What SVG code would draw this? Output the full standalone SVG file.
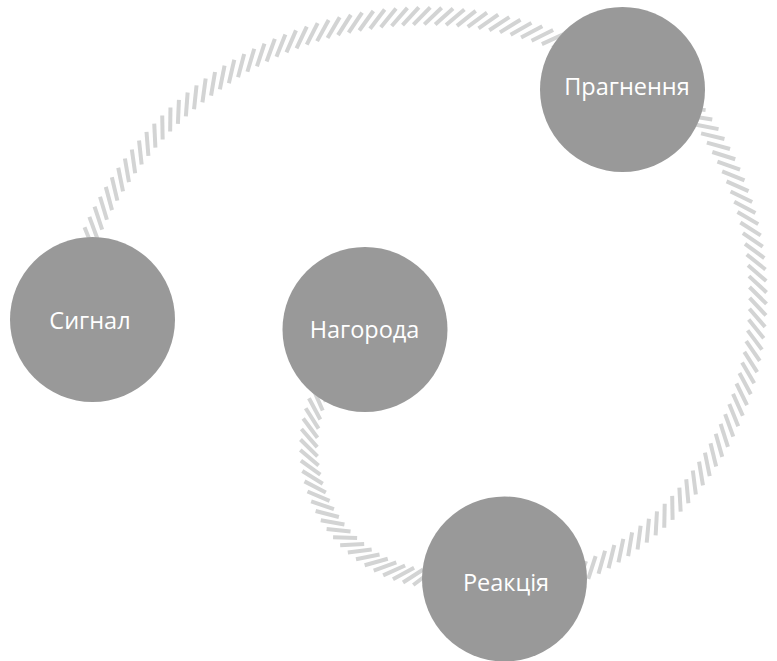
<svg xmlns="http://www.w3.org/2000/svg" xmlns:xlink="http://www.w3.org/1999/xlink" width="777" height="661" viewBox="0 0 777 661">
<style>
.node circle{fill:#999999}
.node text{fill:#ffffff;font-family:"Open Sans","Noto Sans","DejaVu Sans",sans-serif;font-size:23.5px;text-anchor:middle;dominant-baseline:central}
</style>
<defs>
<line id="bar" x1="-8.5" y1="-8.5" x2="8.5" y2="8.5"/>
<g id="t10">
<use href="#bar" transform="rotate(0) translate(365 0)"/>
<use href="#bar" transform="rotate(1.75) translate(365 0)"/>
<use href="#bar" transform="rotate(3.5) translate(365 0)"/>
<use href="#bar" transform="rotate(5.25) translate(365 0)"/>
<use href="#bar" transform="rotate(7) translate(365 0)"/>
<use href="#bar" transform="rotate(8.75) translate(365 0)"/>
<use href="#bar" transform="rotate(10.5) translate(365 0)"/>
<use href="#bar" transform="rotate(12.25) translate(365 0)"/>
<use href="#bar" transform="rotate(14) translate(365 0)"/>
<use href="#bar" transform="rotate(15.75) translate(365 0)"/>
</g>
<g id="r10">
<use href="#bar" transform="rotate(0) translate(305 0)"/>
<use href="#bar" transform="rotate(2.1) translate(305 0)"/>
<use href="#bar" transform="rotate(4.2) translate(305 0)"/>
<use href="#bar" transform="rotate(6.3) translate(305 0)"/>
<use href="#bar" transform="rotate(8.4) translate(305 0)"/>
<use href="#bar" transform="rotate(10.5) translate(305 0)"/>
<use href="#bar" transform="rotate(12.6) translate(305 0)"/>
<use href="#bar" transform="rotate(14.7) translate(305 0)"/>
<use href="#bar" transform="rotate(16.8) translate(305 0)"/>
<use href="#bar" transform="rotate(18.9) translate(305 0)"/>
</g>
<g id="l10">
<use href="#bar" transform="rotate(0) translate(132 0)"/>
<use href="#bar" transform="rotate(4.3) translate(132 0)"/>
<use href="#bar" transform="rotate(8.6) translate(132 0)"/>
<use href="#bar" transform="rotate(12.9) translate(132 0)"/>
<use href="#bar" transform="rotate(17.2) translate(132 0)"/>
<use href="#bar" transform="rotate(21.5) translate(132 0)"/>
<use href="#bar" transform="rotate(25.8) translate(132 0)"/>
<use href="#bar" transform="rotate(30.1) translate(132 0)"/>
<use href="#bar" transform="rotate(34.4) translate(132 0)"/>
<use href="#bar" transform="rotate(38.7) translate(132 0)"/>
</g>
</defs>
<rect width="777" height="661" fill="#ffffff"/>
<g id="connectors" stroke="#d3d4d4" stroke-width="4" fill="none">
<g id="arc-signal-pragnennia" transform="translate(425 381)">
<use href="#t10" transform="rotate(-157)"/>
<use href="#t10" transform="rotate(-139.5)"/>
<use href="#t10" transform="rotate(-122)"/>
<use href="#t10" transform="rotate(-104.5)"/>
<use href="#t10" transform="rotate(-87)"/>
<use href="#t10" transform="rotate(-69.5)"/>
</g>
<g id="arc-pragnennia-reaktsiia" transform="translate(453 296)">
<use href="#r10" transform="rotate(-40)"/>
<use href="#r10" transform="rotate(-19)"/>
<use href="#r10" transform="rotate(2)"/>
<use href="#r10" transform="rotate(23)"/>
<use href="#r10" transform="rotate(44)"/>
<use href="#r10" transform="rotate(65)"/>
</g>
<g id="arc-nagoroda-reaktsiia" transform="translate(441 447)">
<use href="#l10" transform="rotate(85)"/>
<use href="#l10" transform="rotate(128)"/>
<use href="#l10" transform="rotate(171)"/>
<use href="#l10" transform="rotate(214)"/>
</g>
</g>
<g id="node-signal" class="node"><circle cx="92.5" cy="319.5" r="82.5"/><text x="90" y="320">Сигнал</text></g>
<g id="node-nagoroda" class="node"><circle cx="365" cy="329.5" r="82.5"/><text x="364.5" y="329">Нагорода</text></g>
<g id="node-pragnennia" class="node"><circle cx="622.5" cy="89.5" r="82.5"/><text x="627" y="86">Прагнення</text></g>
<g id="node-reaktsiia" class="node"><circle cx="504.5" cy="579" r="82.5"/><text x="506" y="582">Реакція</text></g>
</svg>
